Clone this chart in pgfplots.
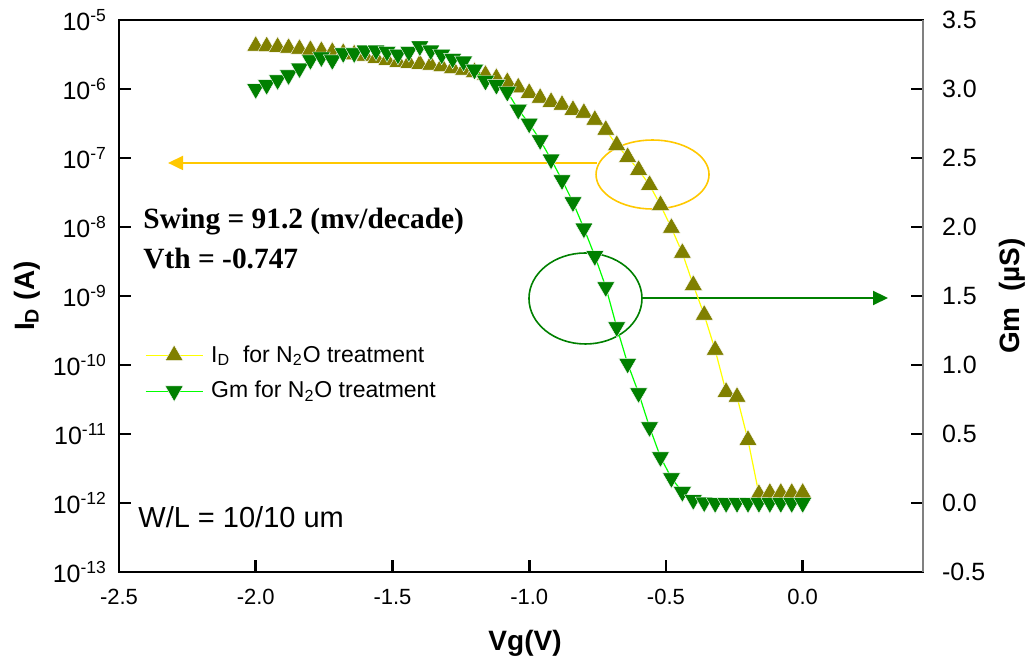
\documentclass[border=0pt]{standalone}
\usepackage{pgfplots}
\pgfplotsset{compat=1.18}
\usepackage{fontspec}
\setmainfont{Liberation Sans}
\newfontfamily\timesfont{Liberation Serif}
\usetikzlibrary{arrows.meta,calc}
\definecolor{idmark}{HTML}{808000}
\definecolor{idline}{HTML}{FFFF00}
\definecolor{gmmark}{HTML}{008000}
\definecolor{gmline}{HTML}{00FF00}
\definecolor{gold}{HTML}{FFC800}

\pgfplotstableread{
x y
-2.00 4.20e-6
-1.96 4.13e-6
-1.92 4.06e-6
-1.88 3.93e-6
-1.84 3.80e-6
-1.80 3.67e-6
-1.76 3.55e-6
-1.72 3.44e-6
-1.68 3.32e-6
-1.64 3.16e-6
-1.60 3.01e-6
-1.56 2.81e-6
-1.52 2.63e-6
-1.48 2.46e-6
-1.44 2.38e-6
-1.40 2.30e-6
-1.36 2.23e-6
-1.32 2.12e-6
-1.28 2.01e-6
-1.24 1.89e-6
-1.20 1.76e-6
-1.16 1.60e-6
-1.12 1.44e-6
-1.08 1.26e-6
-1.04 1.05e-6
-1.00 8.75e-7
-0.96 7.41e-7
-0.92 6.48e-7
-0.88 5.87e-7
-0.84 4.96e-7
-0.80 4.49e-7
-0.76 3.56e-7
-0.72 2.55e-7
-0.68 1.54e-7
-0.64 1.03e-7
-0.60 6.70e-8
-0.56 4.06e-8
-0.52 2.08e-8
-0.48 9.68e-9
-0.44 4.20e-9
-0.40 1.44e-9
-0.36 5.31e-10
-0.32 1.65e-10
-0.28 4.06e-11
-0.24 3.44e-11
-0.20 8.18e-12
-0.16 1.35e-12
-0.12 1.40e-12
-0.08 1.40e-12
-0.04 1.40e-12
0.00 1.40e-12
}\iddata

\pgfplotstableread{
x y
-2.00 3.00
-1.96 3.03
-1.92 3.065
-1.88 3.10
-1.84 3.15
-1.80 3.21
-1.76 3.23
-1.72 3.21
-1.68 3.26
-1.64 3.26
-1.60 3.28
-1.56 3.28
-1.52 3.27
-1.48 3.25
-1.44 3.27
-1.40 3.31
-1.36 3.28
-1.32 3.25
-1.28 3.22
-1.24 3.20
-1.20 3.14
-1.16 3.06
-1.12 3.03
-1.08 2.98
-1.04 2.85
-1.00 2.75
-0.96 2.63
-0.92 2.49
-0.88 2.34
-0.84 2.18
-0.80 1.99
-0.76 1.79
-0.72 1.565
-0.68 1.275
-0.64 1.01
-0.60 0.797
-0.56 0.55
-0.52 0.333
-0.48 0.181
-0.44 0.080
-0.40 0.022
-0.36 0.005
-0.32 0.0
-0.28 0.0
-0.24 0.0
-0.20 0.0
-0.16 0.0
-0.12 0.0
-0.08 0.0
-0.04 0.0
0.00 0.0
}\gmdata

\begin{document}
\begin{tikzpicture}
\begin{axis}[
  scale only axis, width=402pt, height=276pt,
  clip=false,
  xmin=-2.5, xmax=0.44,
  ymode=log, ymin=1e-13, ymax=1e-5,
  xtick={-2.5,-2,-1.5,-1,-0.5,0},
  xticklabels={-2.5,-2.0,-1.5,-1.0,-0.5,0.0},
  ytick={1e-13,1e-12,1e-11,1e-10,1e-9,1e-8,1e-7,1e-6,1e-5},
  yticklabels={10\textsuperscript{-13},10\textsuperscript{-12},10\textsuperscript{-11},10\textsuperscript{-10},10\textsuperscript{-9},10\textsuperscript{-8},10\textsuperscript{-7},10\textsuperscript{-6},10\textsuperscript{-5}},
  yminorticks=false, xminorticks=false,
  tick align=inside,
  xtick pos=left, ytick pos=left,
  major tick length=6pt,
  every tick/.style={black, line width=1.3pt},
  axis line style={line width=0.7pt},
  xticklabel style={yshift=-5pt, font=\fontsize{11}{13}\selectfont},
  yticklabel style={xshift=-2.5pt, font=\fontsize{12.5}{14}\selectfont},
  xlabel={Vg(V)},
  xlabel style={at={(axis description cs:0.505,0)}, anchor=base, yshift=-39pt, font=\bfseries\fontsize{14}{16}\selectfont},
  ylabel={I\textsubscript{D} (A)},
  ylabel style={at={(axis description cs:-0.1144,0.5)}, anchor=center, font=\bfseries\fontsize{14}{16}\selectfont},
  legend style={at={(0.032,0.418)}, anchor=north west, draw=none, fill=none, inner sep=0pt,
    font=\fontsize{11.5}{13}\selectfont, row sep=4pt,
    /tikz/every odd column/.append style={column sep=2pt}},
  legend cell align=left,
  legend image code/.code={\draw[mark repeat=2,mark phase=2] plot coordinates {(0cm,0cm) (0.5cm,0cm) (1cm,0cm)};},
]
\draw[gold, line width=1pt, -{Triangle[length=7.5pt,width=7pt]}] (rel axis cs:0.5945,0.741) -- (rel axis cs:0.061,0.741);
\draw[gold, line width=0.8pt] (rel axis cs:0.6636,0.7201) ellipse [x radius=28.25pt, y radius=17.25pt];
\draw[gmmark, line width=0.8pt] (rel axis cs:0.5802,0.4955) ellipse [x radius=28.25pt, y radius=22.75pt];
\draw[gmmark, line width=1pt, -{Triangle[length=7.5pt,width=7pt]}] (rel axis cs:0.6505,0.4964) -- (rel axis cs:0.9565,0.4964);
\node[anchor=base west, inner sep=0pt, font=\timesfont\bfseries\fontsize{14.7}{17}\selectfont] at (rel axis cs:0.0299,0.623) {Swing = 91.2 (mv/decade)};
\node[anchor=base west, inner sep=0pt, font=\timesfont\bfseries\fontsize{14.7}{17}\selectfont] at (rel axis cs:0.0299,0.5507) {Vth = -0.747};
\node[anchor=base west, inner sep=0pt, font=\fontsize{14.5}{17}\selectfont] at (rel axis cs:0.0236,0.0815) {W/L = 10/10 um};
\addplot[idline, line width=0.6pt, mark=triangle*, mark size=5.2pt,
  mark options={fill=idmark, draw=white, line width=0.2pt}] table {\iddata};
\addlegendentry{I\textsubscript{D}\ \ for N\textsubscript{2}O treatment}
\addlegendimage{gmline, line width=0.6pt, mark=triangle*, mark size=5.2pt,
  mark options={fill=gmmark, draw=white, line width=0.2pt, rotate=180}}
\addlegendentry{Gm for N\textsubscript{2}O treatment}
\end{axis}
\begin{axis}[
  scale only axis, width=402pt, height=276pt,
  clip=false,
  xmin=-2.5, xmax=0.44,
  ymin=-0.5, ymax=3.5,
  axis x line=none, axis y line*=right,
  ytick={-0.5,0,0.5,1,1.5,2,2.5,3,3.5},
  yticklabels={-0.5,0.0,0.5,1.0,1.5,2.0,2.5,3.0,3.5},
  tick align=inside,
  major tick length=6pt,
  every tick/.style={black, line width=1.3pt},
  y axis line style={gray, line width=0.7pt},
  yticklabel style={xshift=6pt, font=\fontsize{12.5}{14}\selectfont},
  ylabel={Gm\ \ (µS)},
  ylabel style={at={(axis description cs:1.1107,0.5)}, anchor=center, font=\bfseries\fontsize{14}{16}\selectfont},
]
\addplot[gmline, line width=0.6pt, mark=triangle*, mark size=5.2pt,
  mark options={fill=gmmark, draw=white, line width=0.2pt, rotate=180}] table {\gmdata};
\end{axis}
\pgfresetboundingbox
\path ($(current axis.south west)+(-59.5pt,-44pt)$) rectangle ($(current axis.north east)+(52pt,10pt)$);
\end{tikzpicture}
\end{document}
